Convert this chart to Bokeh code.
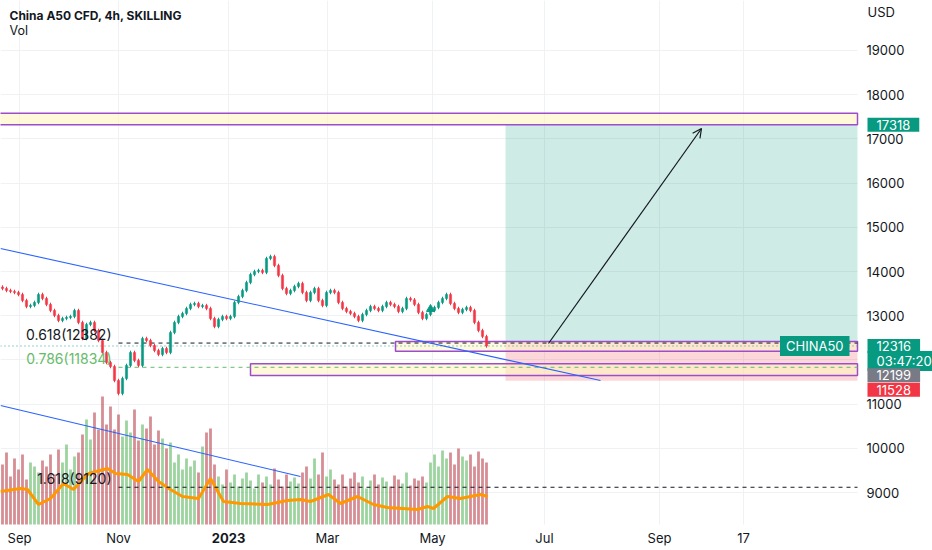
from bokeh.plotting import figure
from bokeh.models import Range1d, FixedTicker, Label, Arrow, OpenHead
from bokeh.embed import file_html
from bokeh.resources import INLINE

# 4h candles (thinned), closes
closes = [
    13616, 13571, 13549, 13526, 13481, 13345, 13209, 13232, 13300, 13481,
    13390, 13255, 13119, 13006, 12893, 12938, 12961, 12983, 13119, 12848,
    12485, 12802, 12848, 12666, 12440, 12169, 11943, 11852, 11535, 11241,
    11581, 11875, 12169, 11988, 11875, 12485, 12440, 12327, 12214, 12124,
    12259, 12169, 12621, 12848, 12983, 13051, 13164, 13255, 13277, 13209,
    13230, 13164, 12938, 12757, 12916, 12983, 12938, 12983, 13300, 13435,
    13571, 13752, 13933, 14002, 14024, 13980, 14295, 14340, 14137, 13911,
    13616, 13503, 13571, 13662, 13730, 13526, 13345, 13526, 13616, 13345,
    13232, 13526, 13571, 13526, 13300, 13164, 13096, 13051, 12983, 12893,
    13028, 13119, 13209, 13164, 13119, 13209, 13300, 13255, 13209, 13096,
    13164, 13390, 13360, 13255, 13074, 12938, 13028, 13119, 13187, 13300,
    13390, 13481, 13277, 13164, 13074, 13141, 13187, 13119, 12848, 12666,
    12531, 12316,
]
first_open = 13650

vol = [
    60, 72, 48, 66, 55, 70, 45, 62, 58, 52,
    64, 58, 70, 50, 75, 62, 80, 55, 68, 72,
    90, 105, 85, 112, 95,
    128, 100, 118,
    95, 110, 88, 104, 92, 115, 84, 100, 96, 108, 80, 94, 86, 76, 82,
    62, 70, 55, 66, 58, 64, 52,
    78, 92, 96, 60,
    48, 40, 55, 42, 50, 38, 46, 52, 44, 36, 50, 42, 48, 40, 56, 45, 38, 50, 43, 47, 41,
    52, 58, 46, 66, 50, 72, 48, 55,
    45, 40, 50, 38, 46, 52, 42, 48, 36, 44, 50, 40, 47, 43, 38, 49, 45, 41, 52, 39, 46, 44, 48, 42,
    62, 70, 58, 74, 66, 72, 60, 76, 68, 64, 70, 58, 73, 66, 62,
]
assert len(vol) == len(closes)

# volume moving average (orange)
ma_bars = [-0.5, 4.5, 6.25, 9, 12, 15.25, 17.75, 21.5, 26.25, 28.25, 31.25, 34, 36.25,
           39, 42, 45, 49, 52, 55.25, 59.5, 66.25, 71.25, 74.5, 77, 81.5, 84.5, 88.75,
           92.75, 96.25, 103.75, 106.25, 107.75, 111.25, 114.5, 119.5, 121.25]
ma_vals = [33, 36, 35, 20, 26, 41, 35, 51, 56, 51, 50, 43, 55,
           43, 35, 28, 26, 46, 23, 21, 20, 24, 25, 23, 30, 21, 28,
           20, 17, 15, 18, 16, 28, 26, 30, 28]

tick_bars = [4.25, 29, 56.5, 81.25, 107.5, 135.5, 164.25, 185.25]
tick_labels = ["Sep", "Nov", "", "Mar", "May", "Jul", "Sep", "17"]
year_label = "2023"
price_ticks = list(range(9000, 20000, 1000))

last_price = 12316
countdown = "03:47:20"
target = 17318
stop = 11528
entry = 12420
zone_top = (17580, 17318)
zone_mid = (12420, 12199)
zone_low = (11913, 11649)
fib = [("0.618(12382)", 12382, "#131722"), ("0.786(11834)", 11834, "#66bb6a"),
       ("1.618(9120)", 9120, "#131722")]
trend1 = ([-0.5, 149.5], [14521, 11535])
trend2 = ([-0.5, 74.5], [10970, 9364])
arrow_pts = ([136.5, 174.75], [12372, 17236])

x_start, x_end, x_axis = -0.5, 232.5, 213.75   # x_axis: where the price scale starts
y_min, y_axis, y_top = 7780, 8278, 20131        # y_axis: where the time scale sits
fib_start, mid_left, low_left, pos_left = 29, 98.25, 62, 125.75
FONT = "Inter"
INK = "#131722"

opens = [first_open] + closes[:-1]
idx = list(range(len(closes)))
up = [c >= o for o, c in zip(opens, closes)]
highs = [max(o, c) + 40 for o, c in zip(opens, closes)]
lows = [min(o, c) - 40 for o, c in zip(opens, closes)]
colors = ["#089981" if u else "#f23645" for u in up]
vol_colors = ["#4caf50" if u else "#b5303a" for u in up]

p = figure(frame_width=932, frame_height=546, output_backend="svg", toolbar_location=None,
           x_range=Range1d(x_start, x_end), y_range=Range1d(y_min, y_top),
           y_axis_location="right", min_border_left=0, min_border_top=0,
           min_border_right=0, min_border_bottom=0)
p.outline_line_color = None
p.extra_y_ranges = {"vol": Range1d(-22, 524)}

# grid & axes (both scales pinned inside the frame, like the trading terminal)
p.xgrid.grid_line_color = "#f0f1f4"
p.ygrid.grid_line_color = "#f0f1f4"
if "cross_bounds" in p.ygrid[0].properties():
    p.ygrid[0].cross_bounds = (x_start, x_axis)
    p.xgrid[0].cross_bounds = (y_axis, y_top)
p.xaxis.ticker = FixedTicker(ticks=tick_bars)
p.xaxis.major_label_overrides = {t: l for t, l in zip(tick_bars, tick_labels)}
p.xaxis.fixed_location = y_axis
p.yaxis.ticker = FixedTicker(ticks=price_ticks)
p.yaxis.major_label_overrides = {12000: ""}
p.yaxis.fixed_location = x_axis
for ax in (p.xaxis, p.yaxis):
    ax.axis_line_color = None
    ax.major_tick_line_color = None
    ax.major_tick_out = 0
    ax.major_tick_in = 0
    ax.minor_tick_line_color = None
    ax.major_label_text_font = FONT
    ax.major_label_text_font_size = "13px"
    ax.major_label_text_color = INK
p.yaxis.major_label_standoff = 9
p.xaxis.major_label_standoff = 6

p.add_layout(Label(x=tick_bars[2], y=y_axis, y_offset=-14, text=year_label,
                   text_align="center", text_baseline="middle", text_font=FONT,
                   text_font_size="13px", text_font_style="bold", text_color=INK))

# long position tool
p.quad(left=pos_left, right=x_axis, bottom=entry, top=target, fill_color="#089981",
       fill_alpha=0.2, line_color=None)
p.quad(left=pos_left, right=x_axis, bottom=stop, top=entry, fill_color="#f23645",
       fill_alpha=0.2, line_color=None)

# zones
p.quad(left=x_start - 5, right=x_axis, bottom=zone_top[1], top=zone_top[0],
       fill_color="#fff3c0", fill_alpha=0.6, line_color="#9c4dcc", line_width=1.5)
p.quad(left=mid_left, right=x_axis, bottom=zone_mid[1], top=zone_mid[0],
       fill_color="#fff3c0", fill_alpha=0.5, line_color="#9c4dcc", line_width=1.5)
p.quad(left=low_left, right=x_axis, bottom=zone_low[1], top=zone_low[0],
       fill_color="#fff3c0", fill_alpha=0.6, line_color="#9c4dcc", line_width=1.5)

# volume
p.vbar(x=idx, top=vol, width=0.7, fill_color=vol_colors, line_color=None,
       fill_alpha=0.55, y_range_name="vol")
p.line(ma_bars, ma_vals, line_color="#ff9800", line_width=3, y_range_name="vol")

# fibonacci levels
for text, lvl, col in fib:
    p.line([fib_start, x_axis], [lvl, lvl], line_color=col, line_dash="4 4", line_width=1)
    p.add_layout(Label(x=fib_start - 1.75, y=lvl, y_offset=9, text=text, text_align="right",
                       text_baseline="middle", text_font=FONT, text_font_size="14px",
                       text_color=col))

# current price line
p.line([x_start - 5, x_axis], [last_price, last_price], line_color="#26a69a",
       line_dash="1 3", line_width=1.2)

# trend lines
p.line(trend1[0], trend1[1], line_color="#2962ff", line_width=1.1)
p.line(trend2[0], trend2[1], line_color="#2962ff", line_width=1.1)

# candles
p.segment(x0=idx, y0=lows, x1=idx, y1=highs, line_color=colors, line_width=1)
p.vbar(x=idx, bottom=opens, top=closes, width=0.55, fill_color=colors, line_color=colors,
       line_width=0.5)
p.scatter([107], [13150], marker="triangle", size=8, fill_color="#089981", line_color="#089981")

p.add_layout(Arrow(end=OpenHead(size=9, line_width=1.2, line_color=INK),
                   x_start=arrow_pts[0][0], y_start=arrow_pts[1][0],
                   x_end=arrow_pts[0][1], y_end=arrow_pts[1][1],
                   line_width=1.2, line_color=INK))

# texts
p.add_layout(Label(x=1.75, y=19792, text="China A50 CFD, 4h, SKILLING",
                   text_baseline="middle", text_font=FONT, text_font_size="12px",
                   text_font_style="bold", text_color=INK))
p.add_layout(Label(x=1.75, y=19452, text="Vol", text_baseline="middle",
                   text_font=FONT, text_font_size="12.5px", text_color=INK))
p.add_layout(Label(x=216.25, y=19860, text="USD", text_baseline="middle",
                   text_font=FONT, text_font_size="13px", text_color=INK))


def tag(x, y, text, bg, align="left", y_offset=0, pad=9):
    p.add_layout(Label(x=x, y=y, y_offset=y_offset, text=text, text_align=align,
                       text_baseline="middle", text_font=FONT, text_font_size="13px",
                       text_color="white", background_fill_color=bg, padding=(pad, 2)))


tag(216.25, target, str(target), "#089981")
tag(211.75, last_price, "CHINA50", "#089981", align="right", pad=6)
tag(216.25, last_price, countdown, "#089981", y_offset=-15)
tag(216.25, last_price, str(last_price), "#089981")
tag(216.25, 12199, "12199", "#787b86", y_offset=-24)
tag(216.25, stop, str(stop), "#f23645", y_offset=-9)

open("out.html", "w").write(file_html(p, INLINE))
